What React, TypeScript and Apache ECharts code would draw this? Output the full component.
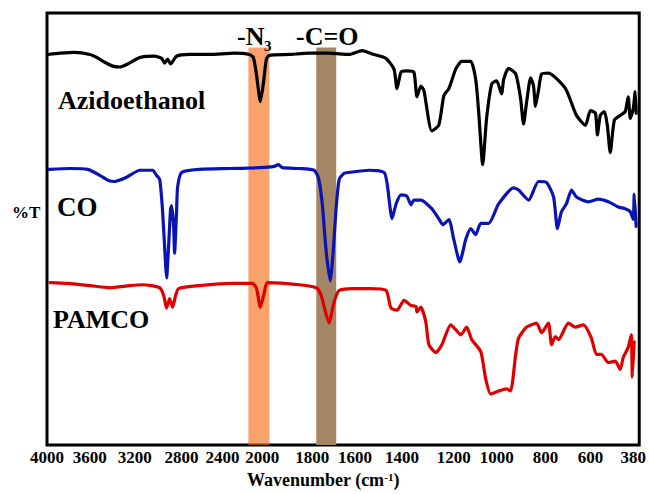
import React, { useEffect, useRef } from "react";
import * as echarts from "echarts";

// Tick labels of the (non-linear) wavenumber axis and where they sit along the axis
const WAVENUMBER_TICKS = [4000, 3600, 3200, 2800, 2400, 2000, 1800, 1600, 1400, 1200, 1000, 800, 600, 380];
const TICK_OFFSETS = [0, 43, 88, 135, 176, 216, 266, 309, 356, 408, 451, 500, 545, 588];
const AXIS_SPAN = 594;

// Azidoethanol (black)
const azidoWn = [3990, 3879, 3740, 3600, 3538, 3467, 3396, 3333, 3262, 3157, 3030, 2970, 2945, 2919, 2894, 2843, 2722, 2527, 2280, 2130, 2090, 2060, 2020, 1996, 1984, 1972, 1892, 1812, 1721, 1628, 1570, 1519, 1468, 1434, 1421, 1404, 1381, 1354, 1342, 1327, 1315, 1285, 1258, 1238, 1219, 1191, 1163, 1121, 1098, 1084, 1065, 1047, 1023, 1000, 980, 971, 951, 922, 902, 890, 877, 861, 849, 841, 829, 816, 787, 711, 662, 622, 600, 574, 564, 549, 528, 513, 498, 477, 447, 421, 406, 395, 380, 370, 365];
const azidoT = [90.4, 90.7, 90.9, 90.4, 89.7, 88.6, 87.7, 87.5, 88.2, 89.7, 90.0, 89.5, 88.4, 89.3, 88.2, 90.0, 90.4, 90.4, 90.7, 90.4, 89.7, 85.9, 79.5, 83.6, 89.3, 90.2, 90.4, 90.7, 90.7, 90.4, 91.3, 90.4, 89.5, 87.0, 82.5, 86.3, 86.6, 86.3, 80.6, 83.1, 82.0, 72.7, 74.0, 80.9, 82.5, 87.0, 88.8, 88.8, 84.7, 77.2, 64.9, 75.6, 83.6, 84.3, 81.3, 84.7, 87.2, 85.9, 80.2, 74.3, 79.5, 85.0, 83.1, 78.4, 82.0, 85.9, 86.1, 82.5, 76.3, 74.0, 77.4, 76.8, 71.8, 76.3, 77.2, 74.0, 67.7, 75.2, 76.3, 77.2, 80.6, 75.6, 77.9, 81.8, 76.8];

// CO (blue)
const coWn = [3981, 3786, 3619, 3511, 3440, 3378, 3271, 3157, 3047, 3013, 2987, 2962, 2936, 2928, 2911, 2894, 2885, 2868, 2860, 2843, 2834, 2800, 2624, 2330, 2030, 1952, 1936, 1920, 1852, 1791, 1772, 1754, 1735, 1716, 1702, 1688, 1674, 1651, 1628, 1540, 1476, 1463, 1442, 1425, 1404, 1381, 1365, 1354, 1327, 1285, 1258, 1242, 1219, 1200, 1172, 1144, 1121, 1098, 1074, 1037, 992, 931, 910, 869, 829, 796, 764, 747, 729, 707, 684, 662, 609, 559, 508, 457, 421, 395, 380, 375, 365];
const coT = [63.8, 64.0, 63.8, 62.4, 61.3, 61.0, 62.0, 63.6, 63.6, 62.4, 61.5, 54.0, 41.5, 38.7, 46.0, 54.7, 55.4, 50.6, 44.4, 54.0, 59.7, 63.1, 63.8, 64.0, 64.2, 64.5, 64.9, 64.2, 64.0, 63.6, 62.0, 56.3, 44.9, 38.0, 44.9, 55.1, 61.5, 62.9, 63.1, 63.6, 63.1, 60.4, 52.4, 55.8, 57.9, 57.6, 55.6, 56.7, 56.7, 54.7, 52.4, 51.0, 52.2, 47.6, 42.4, 47.6, 50.1, 48.7, 51.3, 51.3, 55.8, 59.5, 59.0, 56.7, 61.0, 60.8, 57.4, 50.1, 54.0, 55.8, 59.0, 57.4, 56.3, 56.9, 56.3, 55.1, 54.7, 54.0, 52.2, 58.1, 50.6];

// PAMCO (red)
const pamcoWn = [3972, 3814, 3600, 3422, 3244, 3132, 2987, 2953, 2928, 2902, 2877, 2851, 2826, 2624, 2300, 2100, 2060, 2020, 1992, 1980, 1852, 1781, 1758, 1740, 1721, 1702, 1688, 1674, 1614, 1540, 1468, 1447, 1421, 1392, 1365, 1346, 1342, 1327, 1308, 1296, 1269, 1246, 1212, 1191, 1167, 1140, 1116, 1074, 1051, 1028, 992, 959, 943, 922, 910, 877, 837, 816, 787, 773, 756, 742, 698, 667, 631, 595, 569, 544, 508, 472, 447, 431, 406, 390, 385, 375];
const pamcoT = [37.6, 37.4, 36.9, 36.4, 36.9, 37.1, 36.4, 34.6, 31.7, 33.9, 31.9, 34.6, 36.2, 36.9, 37.4, 37.4, 36.4, 31.9, 35.3, 37.6, 37.1, 36.4, 34.6, 31.2, 28.2, 32.3, 34.6, 35.8, 36.2, 36.2, 35.8, 31.7, 31.2, 33.5, 32.3, 32.1, 30.8, 31.9, 28.5, 23.2, 21.4, 23.2, 27.8, 26.7, 25.5, 27.3, 24.4, 21.6, 15.3, 11.8, 12.5, 13.0, 12.5, 21.0, 24.8, 27.3, 28.2, 26.0, 28.2, 23.2, 25.1, 24.4, 28.2, 27.3, 27.8, 24.8, 21.0, 21.0, 19.1, 19.4, 17.5, 20.3, 22.6, 25.5, 15.7, 23.9];

// Highlighted bands (wavenumber ranges)
const azideBand = [2140, 1972];
const carbonylBand = [1781, 1688];
const BAND_TOP = 92;

function wnToPos(wn: number): number {
  const t = WAVENUMBER_TICKS;
  const p = TICK_OFFSETS;
  const n = t.length;
  let i = 0;
  if (wn >= t[0]) i = 0;
  else if (wn <= t[n - 1]) i = n - 2;
  else {
    for (let k = 0; k < n - 1; k++) {
      if (wn <= t[k] && wn >= t[k + 1]) {
        i = k;
        break;
      }
    }
  }
  return p[i] + ((t[i] - wn) / (t[i] - t[i + 1])) * (p[i + 1] - p[i]);
}

function pairs(wn: number[], v: number[]) {
  return wn.map((w, i) => [wnToPos(w), v[i]]);
}

const SERIF = "'Liberation Serif', 'Times New Roman', serif";

export default function App() {
  const ref = useRef<HTMLDivElement>(null);

  useEffect(() => {
    if (!ref.current) return;
    const chart = echarts.init(ref.current, undefined, { renderer: "svg" });
    const lineCommon = {
      type: "line",
      showSymbol: false,
      smooth: 0.2,
      lineStyle: { width: 3.2, join: "round", cap: "round" },
      silent: true,
    };
    chart.setOption({
      animation: false,
      backgroundColor: "#ffffff",
      grid: {
        left: 47,
        right: 8,
        top: 13,
        bottom: 42,
        show: true,
        borderColor: "#000",
        borderWidth: 3,
        backgroundColor: "transparent",
      },
      xAxis: {
        type: "value",
        min: 0,
        max: AXIS_SPAN,
        splitLine: { show: false },
        axisLine: { show: false },
        axisTick: { show: false },
        axisLabel: {
          customValues: TICK_OFFSETS,
          formatter: (val: number) => {
            const idx = TICK_OFFSETS.indexOf(val);
            return idx >= 0 ? String(WAVENUMBER_TICKS[idx]) : "";
          },
          color: "#000",
          fontFamily: SERIF,
          fontWeight: "bold",
          fontSize: 17,
          margin: 4,
          showMinLabel: true,
          showMaxLabel: true,
        },
        name: "Wavenumber (cm{sup|-1})",
        nameLocation: "middle",
        nameGap: 26,
        nameTextStyle: {
          color: "#000",
          fontFamily: SERIF,
          fontWeight: "bold",
          fontSize: 18,
          padding: [0, 40, 0, 0],
          rich: {
            sup: {
              fontFamily: SERIF,
              fontWeight: "bold",
              fontSize: 11,
              verticalAlign: "top",
              color: "#000",
            },
          },
        },
      },
      yAxis: {
        type: "value",
        min: 0,
        max: 100,
        show: false,
        splitLine: { show: false },
      },
      series: [
        {
          type: "line",
          data: [],
          z: 1,
          silent: true,
          markArea: {
            silent: true,
            itemStyle: { color: "#A58664", opacity: 1 },
            data: [[{ xAxis: wnToPos(carbonylBand[0]), yAxis: BAND_TOP }, { xAxis: wnToPos(carbonylBand[1]), yAxis: 0 }]],
          },
        },
        { ...lineCommon, name: "Azidoethanol", z: 3, data: pairs(azidoWn, azidoT), lineStyle: { ...lineCommon.lineStyle, color: "#000000" } },
        { ...lineCommon, name: "CO", z: 3, data: pairs(coWn, coT), lineStyle: { ...lineCommon.lineStyle, color: "#0A14B4" } },
        { ...lineCommon, name: "PAMCO", z: 3, data: pairs(pamcoWn, pamcoT), lineStyle: { ...lineCommon.lineStyle, color: "#E00000" } },
        {
          type: "line",
          data: [],
          z: 5,
          silent: true,
          markArea: {
            silent: true,
            itemStyle: { color: "rgba(246,100,10,0.6)", opacity: 1 },
            data: [[{ xAxis: wnToPos(azideBand[0]), yAxis: BAND_TOP }, { xAxis: wnToPos(azideBand[1]), yAxis: 0 }]],
          },
        },
      ],
      graphic: [
        { type: "text", x: 58, y: 100, z: 20, style: { text: "Azidoethanol", fontFamily: SERIF, fontWeight: "bold", fontSize: 26, fill: "#000", verticalAlign: "middle" } },
        { type: "text", x: 57, y: 207, z: 20, style: { text: "CO", fontFamily: SERIF, fontWeight: "bold", fontSize: 27, fill: "#000", verticalAlign: "middle" } },
        { type: "text", x: 53, y: 319, z: 20, style: { text: "PAMCO", fontFamily: SERIF, fontWeight: "bold", fontSize: 26, fill: "#000", verticalAlign: "middle" } },
        { type: "text", x: 12, y: 212, z: 20, style: { text: "%T", fontFamily: SERIF, fontWeight: "bold", fontSize: 17, fill: "#000", verticalAlign: "middle" } },
        { type: "text", x: 237, y: 36, z: 20, style: { text: "-N", fontFamily: SERIF, fontWeight: "bold", fontSize: 26, fill: "#000", verticalAlign: "middle" } },
        { type: "text", x: 264, y: 46, z: 20, style: { text: "3", fontFamily: SERIF, fontWeight: "bold", fontSize: 15, fill: "#000", verticalAlign: "middle" } },
        { type: "text", x: 296, y: 36, z: 20, style: { text: "-C=O", fontFamily: SERIF, fontWeight: "bold", fontSize: 26, fill: "#000", verticalAlign: "middle" } },
      ],
    });
    return () => chart.dispose();
  }, []);

  return (
    <div
      ref={ref}
      style={{ position: "fixed", left: 0, top: 0, width: 649, height: 494, background: "#fff" }}
    />
  );
}
